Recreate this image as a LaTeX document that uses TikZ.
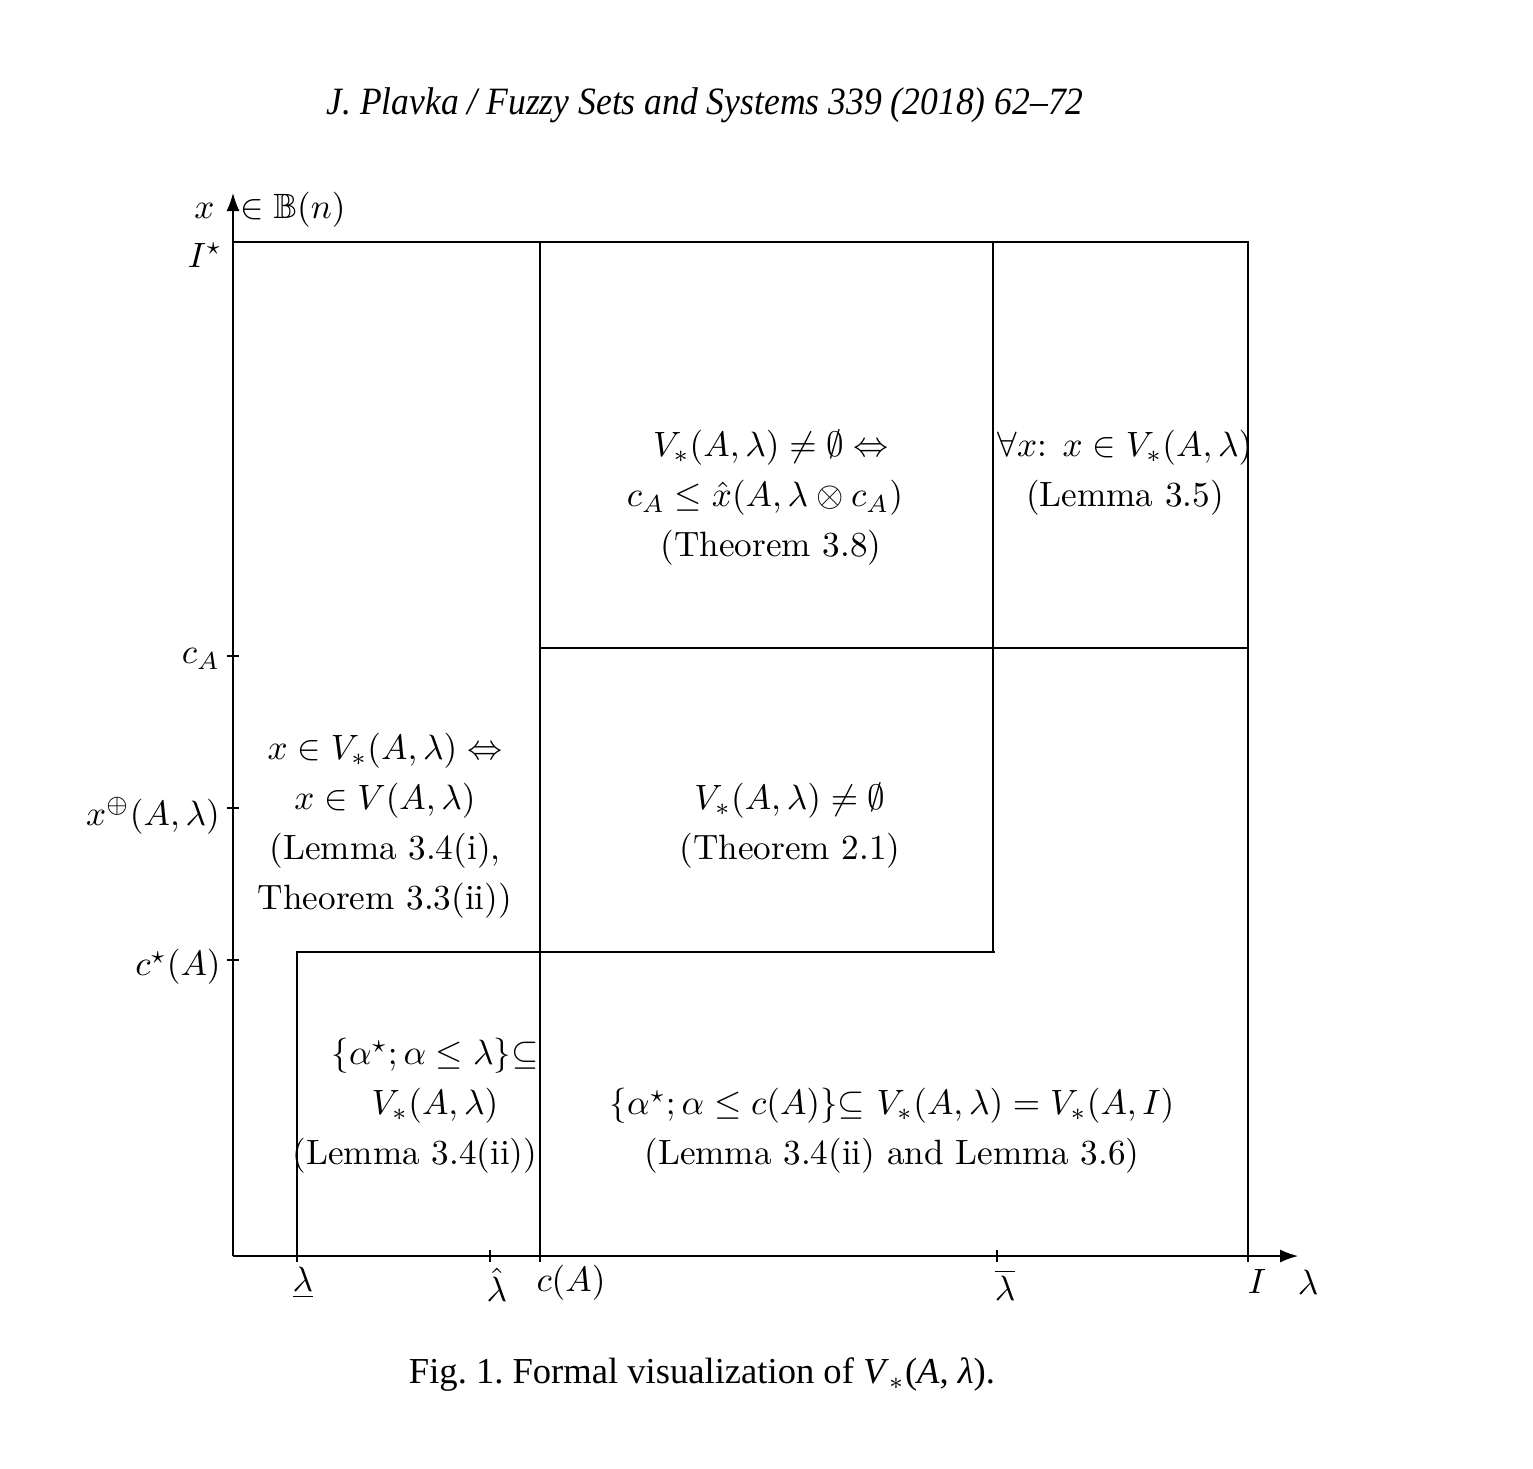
\documentclass[tikz,border=0pt]{standalone}
\usepackage{amsmath}
\usepackage{amssymb}
\usepackage{fontspec}
\newfontfamily\timesfont[Ligatures=TeX]{Liberation Serif}
\usetikzlibrary{positioning,arrows.meta,calc}

\begin{document}
\begin{tikzpicture}[
  x=0.01cm, y=-0.01cm,
  every node/.style={font=\fontsize{10}{14.2}\selectfont},
  reg/.style={align=center},
  ax/.style={-{Latex[length=1.8mm,width=1.3mm]}},
  tck/.style={thin},
]
\useasboundingbox (0,0) rectangle (1533,1468);
% axes
\coordinate (O) at (233,1256);
\coordinate (ytop) at (233,193);
\coordinate (xend) at (1298,1256);
\draw[ax] (O) -- (ytop);
\draw[ax] (O) -- (xend);
% region borders
\coordinate (tl) at (233,242);
\coordinate (tr) at (1248,242);
\coordinate (br) at (1248,1256);
\coordinate (ct) at (540,242);
\coordinate (cb) at (540,1256);
\coordinate (bt) at (993,242);
\coordinate (bm) at (993,952);
\coordinate (cm) at (540,648);
\coordinate (rm) at (1248,648);
\coordinate (lb) at (297,1256);
\coordinate (lm) at (297,952);
\coordinate (lr) at (995,952);
\draw (tl) -- (tr) -- (br);
\draw (ct) -- (cb);
\draw (bt) -- (bm);
\draw (cm) -- (rm);
\draw (lb) -- (lm) -- (lr);
% ticks
\foreach \y in {656,808,960}
  \draw[tck] (227,\y) -- (239,\y);
\foreach \x in {297,490,540,997,1248}
  \draw[tck] (\x,1250) -- (\x,1262);
% axis labels
\node (xlab) at (270,210) {$x$\hspace{2.6mm}$\in\mathbb{B}(n)$};
\node (istar) at (205,255) {$I^{\star}$};
\node (ca) at (201,659) {$c_A$};
\node (xplus) at (153,816) {$x^{\oplus}(A,\lambda)$};
\node (cstar) at (178,967) {$c^{\star}(A)$};
\node (lamlo) at (303,1283) {$\underline{\lambda}$};
\node (lamhat) at (497,1285) {$\hat{\lambda}$};
\node (cA) at (571,1283) {$c(A)$};
\node (lamup) at (1005,1285) {$\overline{\lambda}$};
\node (ione) at (1257,1281) {$I$};
\node (lam) at (1308,1282) {$\lambda$};
% regions
\node[reg] (thm38) at (771,498) {$V_*(A,\lambda)\neq\emptyset\Leftrightarrow$\\
  \hspace*{-0.12cm}$c_A\leq\hat{x}(A,\lambda\otimes c_A)$\\(Theorem 3.8)};
\node[reg] (lem35) at (1125,473) {$\forall x$: $x\in V_*(A,\lambda)$\\(Lemma 3.5)};
\node[reg] (lem34i) at (385,826) {$x\in V_*(A,\lambda)\Leftrightarrow$\\
  $x\in V(A,\lambda)$\\(Lemma 3.4(i),\\Theorem 3.3(ii))};
\node[reg] (thm21) at (790,826) {$V_*(A,\lambda)\neq\emptyset$\\(Theorem 2.1)};
\node[reg] (lem34ii) at (435,1106) {$\{\alpha^{\star};\alpha\leq\lambda\}{\subseteq}$\\
  $V_*(A,\lambda)$\\\hspace*{-0.4cm}(Lemma 3.4(ii))};
\node[reg] (lem36) at (892,1131) {$\{\alpha^{\star};\alpha\leq c(A)\}{\subseteq}$ $V_*(A,\lambda)=V_*(A,I)$\\
  (Lemma 3.4(ii) and Lemma 3.6)};
% header and caption
\node (head) at (705,105) {\scalebox{0.92}[1]{\timesfont\itshape\fontsize{11}{13}\selectfont J. Plavka / Fuzzy Sets and Systems 339 (2018) 62--72}};
\node (capt) at (702,1375) {\timesfont\frenchspacing\fontsize{10.4}{13}\selectfont Fig. 1. Formal visualization of \textit{V}$_{*}$(\textit{A}, \textit{λ}).};
\end{tikzpicture}
\end{document}
